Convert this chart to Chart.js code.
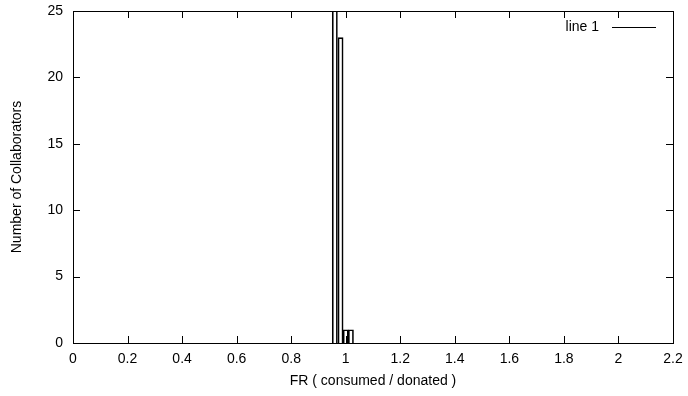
<!DOCTYPE html>
<html>
<head>
<meta charset="utf-8">
<script src="https://cdn.jsdelivr.net/npm/chart.js@4.4.1/dist/chart.umd.min.js"></script>
<style>
  html, body { margin: 0; padding: 0; background: #fff; }
  #wrap { width: 688px; height: 396px; }
</style>
</head>
<body>
<div id="wrap"><canvas id="myChart" width="688" height="396"></canvas></div>
<script>
'use strict';

// histogram bins
let frBins = [0.960, 0.981, 1.0, 1.019];
let collaborators = [27, 23, 1, 1];

let xTicks = [0, 0.2, 0.4, 0.6, 0.8, 1, 1.2, 1.4, 1.6, 1.8, 2, 2.2];
let yTicks = [0, 5, 10, 15, 20, 25];

let seriesName = 'line 1';
let fontFamily = '"Liberation Sans", Arial, Helvetica, sans-serif';
let fontSize = 14;

let points = [];
for (let i = 0; i < frBins.length; i++) {
  points.push({ x: frBins[i], y: collaborators[i] });
}

// gnuplot style frame with inward ticks and the key in the corner
let framePlugin = {
  id: 'frame',
  afterDatasetsDraw(chart) {
    let ctx = chart.ctx;
    let area = chart.chartArea;
    let xs = chart.scales.x;
    let ys = chart.scales.y;
    let tick = 7;
    ctx.save();
    ctx.strokeStyle = '#000';
    ctx.lineWidth = 1;
    ctx.beginPath();
    for (let i = 0; i < xTicks.length; i++) {
      let px = Math.round(xs.getPixelForValue(xTicks[i])) + 0.5;
      ctx.moveTo(px, area.bottom);
      ctx.lineTo(px, area.bottom - tick);
      ctx.moveTo(px, area.top);
      ctx.lineTo(px, area.top + tick);
    }
    for (let i = 0; i < yTicks.length; i++) {
      let py = Math.round(ys.getPixelForValue(yTicks[i])) + 0.5;
      ctx.moveTo(area.left, py);
      ctx.lineTo(area.left + tick, py);
      ctx.moveTo(area.right, py);
      ctx.lineTo(area.right - tick, py);
    }
    ctx.stroke();
    ctx.strokeRect(Math.round(area.left) + 0.5, Math.round(area.top) + 0.5,
      Math.round(area.right - area.left), Math.round(area.bottom - area.top));

    // key
    ctx.fillStyle = '#000';
    ctx.font = fontSize + 'px ' + fontFamily;
    ctx.textAlign = 'right';
    ctx.textBaseline = 'middle';
    ctx.fillText(seriesName, area.right - 74, area.top + 16);
    ctx.beginPath();
    ctx.moveTo(area.right - 61, area.top + 16.5);
    ctx.lineTo(area.right - 17, area.top + 16.5);
    ctx.stroke();
    ctx.restore();
  }
};

let ctx = document.getElementById('myChart').getContext('2d');
let myChart = new Chart(ctx, {
  type: 'bar',
  data: {
    datasets: [{
      label: seriesName,
      data: points,
      backgroundColor: 'rgba(0,0,0,0)',
      borderColor: '#000',
      borderWidth: 1,
      borderSkipped: 'bottom',
      barPercentage: 1,
      categoryPercentage: 1,
      clip: 0
    }]
  },
  options: {
    responsive: false,
    animation: false,
    layout: { padding: { left: 0, right: 15, top: 11, bottom: 0 } },
    plugins: {
      legend: { display: false },
      tooltip: { enabled: false }
    },
    scales: {
      x: {
        type: 'linear',
        min: 0,
        max: 2.2,
        offset: false,
        afterFit(scale) {
          scale.height = 53;
          scale.paddingLeft = 0;
          scale.paddingRight = 0;
        },
        afterBuildTicks(scale) { scale.ticks = xTicks.map(v => ({ value: v })); },
        grid: { display: false, drawTicks: false },
        border: { display: false },
        ticks: {
          padding: 8,
          color: '#000',
          font: { family: fontFamily, size: fontSize },
          maxRotation: 0,
          autoSkip: false,
          callback: v => String(v)
        },
        title: {
          display: true,
          text: 'FR ( consumed / donated )',
          color: '#000',
          font: { family: fontFamily, size: fontSize },
          padding: { top: 0, bottom: 6 }
        }
      },
      y: {
        min: 0,
        max: 25,
        afterFit(scale) {
          scale.width = 73;
          scale.paddingTop = 0;
          scale.paddingBottom = 0;
        },
        afterBuildTicks(scale) { scale.ticks = yTicks.map(v => ({ value: v })); },
        grid: { display: false, drawTicks: false },
        border: { display: false },
        ticks: {
          padding: 10,
          color: '#000',
          font: { family: fontFamily, size: fontSize },
          callback: v => String(v)
        },
        title: {
          display: true,
          text: 'Number of Collaborators',
          color: '#000',
          font: { family: fontFamily, size: fontSize },
          padding: { top: 9, bottom: 0 }
        }
      }
    }
  },
  plugins: [framePlugin]
});
</script>
</body>
</html>
